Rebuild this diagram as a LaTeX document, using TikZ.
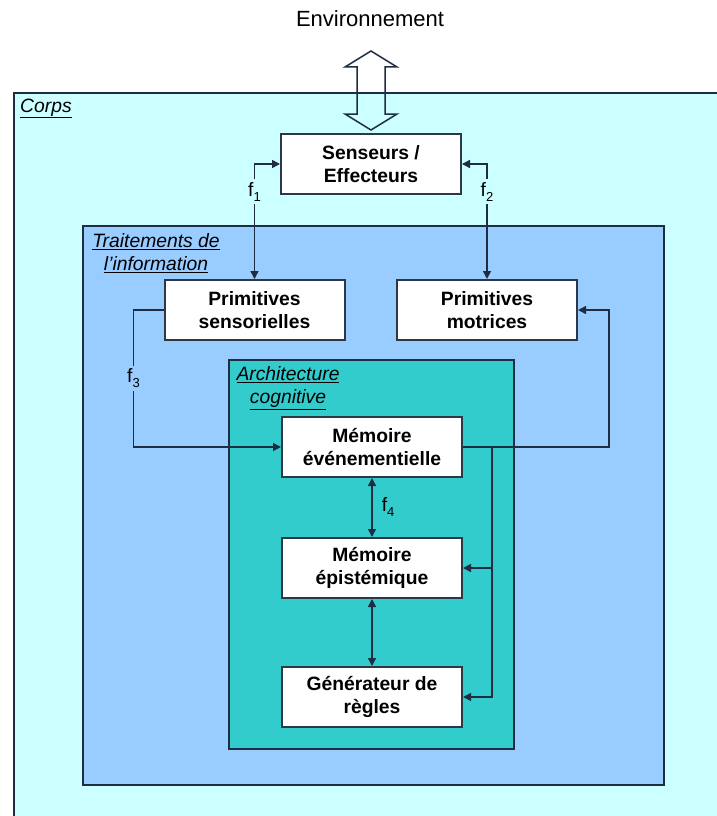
\documentclass[tikz,border=0pt]{standalone}
\usepackage{fontspec}
\setmainfont{Liberation Sans}
\usetikzlibrary{arrows.meta, positioning}
\definecolor{corpscyan}{RGB}{204, 255, 255}
\definecolor{traitblue}{RGB}{153, 204, 255}
\definecolor{architeal}{RGB}{51, 204, 204}
\definecolor{darkline}{RGB}{30, 45, 65}
\definecolor{boxedge}{RGB}{45, 55, 70}
\tikzset{
  zone/.style={rectangle, draw=darkline, line width=2pt, anchor=north west,
              inner sep=0pt},
  unitbox/.style={rectangle, draw=boxedge, line width=2pt, fill=white,
              minimum width=180pt, minimum height=60pt, align=center,
              font=\fontsize{19.3}{23}\selectfont\bfseries, inner sep=0pt},
  zonelabel/.style={align=center, anchor=north, inner sep=0pt,
              font=\fontsize{19.3}{23.5}\selectfont\itshape},
  flabel/.style={inner sep=3pt, font=\fontsize{19.3}{23}\selectfont},
  arrow/.style={-{Triangle[length=8pt, width=8pt]}, line width=1.5pt, draw=darkline},
  dblarrow/.style={{Triangle[length=8pt, width=8pt]}-{Triangle[length=8pt, width=8pt]},
              line width=1.5pt, draw=darkline},
  bigarrow/.style={draw=darkline, line width=1.5pt, line join=miter},
}
\newcommand{\fsub}[1]{f\raisebox{-5pt}{\fontsize{13}{13}\selectfont #1}}

\begin{document}
\begin{tikzpicture}[x=1pt, y=-1pt]
  \useasboundingbox (0,0) rectangle (717,816);
  \clip (0,0) rectangle (717,816);
  \fill[white] (0,0) rectangle (717,816);

  % nested zones
  \node[zone, fill=corpscyan, minimum width=720pt, minimum height=740pt] (corps) at (13,92) {};
  \node[zone, fill=traitblue, minimum width=581pt, minimum height=559pt] (trait) at (82,225) {};
  \node[zone, fill=architeal, minimum width=285pt, minimum height=389pt] (archi) at (228,359) {};

  \node[zonelabel, anchor=base west] (corpslbl) at ([xshift=7pt, yshift=-20pt]corps.north west)
        {\underline{Corps}};
  \node[zonelabel] (traitlbl) at ([xshift=74pt, yshift=-8pt]trait.north west)
        {\underline{Traitements de}\\\underline{l’information}};
  \node[zonelabel] (archilbl) at ([xshift=60pt, yshift=-7pt]archi.north west)
        {\underline{Architecture}\\\underline{cognitive}};

  \node[font=\fontsize{22}{26}\selectfont, anchor=base] (env) at (370,27) {Environnement};

  \node[unitbox] (ss) at (371,164) {Senseurs /\\Effecteurs};
  \node[unitbox] (ps) at (254.5,310) {Primitives\\sensorielles};
  \node[unitbox] (pm) at (487,310) {Primitives\\motrices};
  \node[unitbox] (me) at (372,447) {Mémoire\\événementielle};
  \node[unitbox, below=59pt of me] (ep) {Mémoire\\épistémique};
  \node[unitbox, below=67pt of ep] (gen) {Générateur de\\règles};

  % environnement <-> senseurs
  \draw[bigarrow] ([yshift=3pt]ss.north) -- ++(-26,-16) -- ++(12,0) -- ++(0,-47) -- ++(-12,0)
        -- ++(26,-16) -- ++(26,16) -- ++(-12,0) -- ++(0,47) -- ++(12,0) -- cycle;

  \draw[dblarrow] (ps.north) -- node[flabel, fill=corpscyan, pos=0.76] {\fsub{1}} (ps.north |- ss.west) -- (ss.west);
  \draw[dblarrow] (pm.north) -- node[flabel, fill=corpscyan, pos=0.76] {\fsub{2}} (pm.north |- ss.east) -- (ss.east);
  \draw[arrow] (ps.west) -- ++(-30,0) |- node[flabel, fill=traitblue, pos=0.25] {\fsub{3}} (me.west);
  \draw[arrow] (me.east) -- ++(146,0) |- (pm.east);

  \path (me.east) ++(29,0) coordinate (split);
  \draw[arrow] (split) |- (ep.east);
  \draw[arrow] (split) |- (gen.east);

  \draw[dblarrow] (me.south) -- node[flabel, right=6pt] {\fsub{4}} (ep.north);
  \draw[dblarrow] (ep.south) -- (gen.north);
\end{tikzpicture}
\end{document}
